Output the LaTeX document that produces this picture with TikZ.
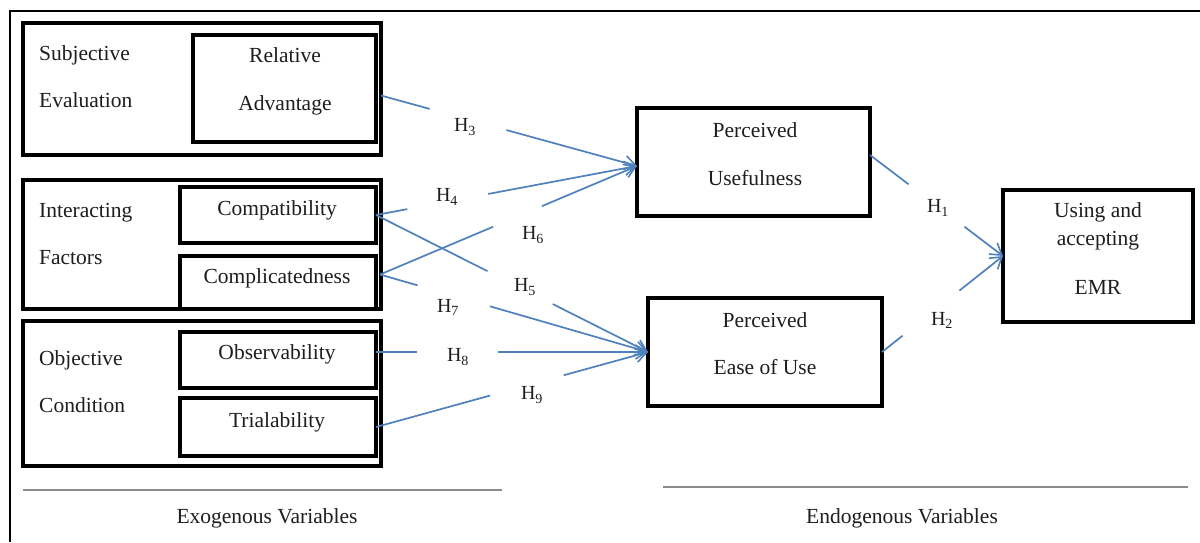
\documentclass[tikz,border=0pt]{standalone}
\usepackage{fontspec}
\setmainfont{Liberation Serif}
\usetikzlibrary{calc,arrows.meta}
\definecolor{linkblue}{RGB}{79,129,189}
\definecolor{txt}{RGB}{30,30,30}
\definecolor{rule}{RGB}{140,140,140}
% blue connector interrupted where its label sits
\newcommand\gapedge[4]{%
  \draw[link] (#1) -- ($(#1)!#3!(#2)$);
  \draw[link,-{Straight Barb[length=11pt,width=14pt,line width=1.6pt]}] ($(#1)!#4!(#2)$) -- (#2);}
\begin{document}
\begin{tikzpicture}[x=1pt,y=-1pt,
  box/.style={draw=black,line width=3.4pt,inner sep=0pt,outer sep=0pt,rectangle},
  lbl/.style={inner sep=0pt,text=txt,font=\fontsize{21.5}{26}\selectfont,text height=14pt,text depth=4pt},
  hyp/.style={inner sep=0pt,text=txt,font=\fontsize{20}{24}\selectfont},
  link/.style={draw=linkblue,line width=1.7pt}]
\useasboundingbox (0,0) rectangle (1200,542);
\fill[white] (0,0) rectangle (1200,542);

% frame
\draw[line width=2.2pt] (10,542) -- (10,11) -- (1200,11);

% exogenous groups
\node[box,minimum width=358pt,minimum height=132pt] (gsub) at (202,89) {};
\node[box,minimum width=183pt,minimum height=107pt] (ra) at (284.5,88.5) {};
\node[box,minimum width=358pt,minimum height=129pt] (gint) at (202,244.5) {};
\node[box,minimum width=196pt,minimum height=56pt] (cp) at (278,215) {};
\node[box,minimum width=196pt,minimum height=53pt] (cm) at (278,282.5) {};
\node[box,minimum width=358pt,minimum height=145pt] (gobj) at (202,393.5) {};
\node[box,minimum width=196pt,minimum height=56pt] (ob) at (278,360) {};
\node[box,minimum width=196pt,minimum height=58pt] (tr) at (278,427) {};

% endogenous constructs
\node[box,minimum width=233pt,minimum height=108pt] (pu) at (753.5,162) {};
\node[box,minimum width=234pt,minimum height=108pt] (peu) at (765,352) {};
\node[box,minimum width=190pt,minimum height=132pt] (emr) at (1098,256) {};

% texts
\node[lbl,anchor=west] (t1) at (39,55) {Subjective};
\node[lbl,anchor=west] (t2) at (39,102) {Evaluation};
\node[lbl] (t3) at (285,57) {Relative};
\node[lbl] (t4) at (285,105) {Advantage};
\node[lbl,anchor=west] (t5) at (39,212) {Interacting};
\node[lbl,anchor=west] (t6) at (39,259) {Factors};
\node[lbl] (t7) at (277,210) {Compatibility};
\node[lbl] (t8) at (277,278) {Complicatedness};
\node[lbl,anchor=west] (t9) at (39,360) {Objective};
\node[lbl,anchor=west] (t10) at (39,407) {Condition};
\node[lbl] (t11) at (277,354) {Observability};
\node[lbl] (t12) at (277,422) {Trialability};
\node[lbl] (t13) at (755,132) {Perceived};
\node[lbl] (t14) at (755,180) {Usefulness};
\node[lbl] (t15) at (765,322) {Perceived};
\node[lbl] (t16) at (765,369) {Ease of Use};
\node[lbl] (t17) at (1098,212) {Using and};
\node[lbl] (t18) at (1098,240) {accepting};
\node[lbl] (t19) at (1098,289) {EMR};

% section rules and captions
\draw[rule,line width=2pt] (23,490) -- (502,490);
\draw[rule,line width=2pt] (663,487) -- (1188,487);
\node[lbl] (exo) at (267,518) {Exogenous Variables};
\node[lbl] (endo) at (902,518) {Endogenous Variables};

% connector end points
\coordinate (ra-out) at ($(ra.east)+(5,7)$);
\coordinate (cp-out) at (cp.east);
\coordinate (cm-out) at ($(cm.east)+(4,-8)$);
\coordinate (ob-out) at (peu.west -| ob.east);
\coordinate (tr-out) at (tr.east);
\coordinate (pu-in) at ($(pu.west)+(0,4)$);
\coordinate (peu-in) at (peu.west);
\coordinate (pu-out) at ($(pu.east)+(0,-7)$);
\coordinate (peu-out) at (peu.east);
\coordinate (emr-in) at (emr.west);

% hypotheses
\gapedge{ra-out}{pu-in}{0.19}{0.49}
\gapedge{cp-out}{pu-in}{0.12}{0.43}
\gapedge{cm-out}{pu-in}{0.44}{0.63}
\gapedge{cp-out}{peu-in}{0.41}{0.65}
\gapedge{cm-out}{peu-in}{0.14}{0.41}
\gapedge{ob-out}{peu-in}{0.15}{0.45}
\gapedge{tr-out}{peu-in}{0.42}{0.69}
\gapedge{pu-out}{emr-in}{0.29}{0.71}
\gapedge{peu-out}{emr-in}{0.17}{0.64}

\node[hyp] (h3) at (465,127) {H\textsubscript{3}};
\node[hyp] (h4) at (447,197) {H\textsubscript{4}};
\node[hyp] (h6) at (533,235) {H\textsubscript{6}};
\node[hyp] (h5) at (525,287) {H\textsubscript{5}};
\node[hyp] (h7) at (448,307) {H\textsubscript{7}};
\node[hyp] (h8) at (458,357) {H\textsubscript{8}};
\node[hyp] (h9) at (532,395) {H\textsubscript{9}};
\node[hyp] (h1) at (938,208) {H\textsubscript{1}};
\node[hyp] (h2) at (942,320) {H\textsubscript{2}};
\end{tikzpicture}
\end{document}
